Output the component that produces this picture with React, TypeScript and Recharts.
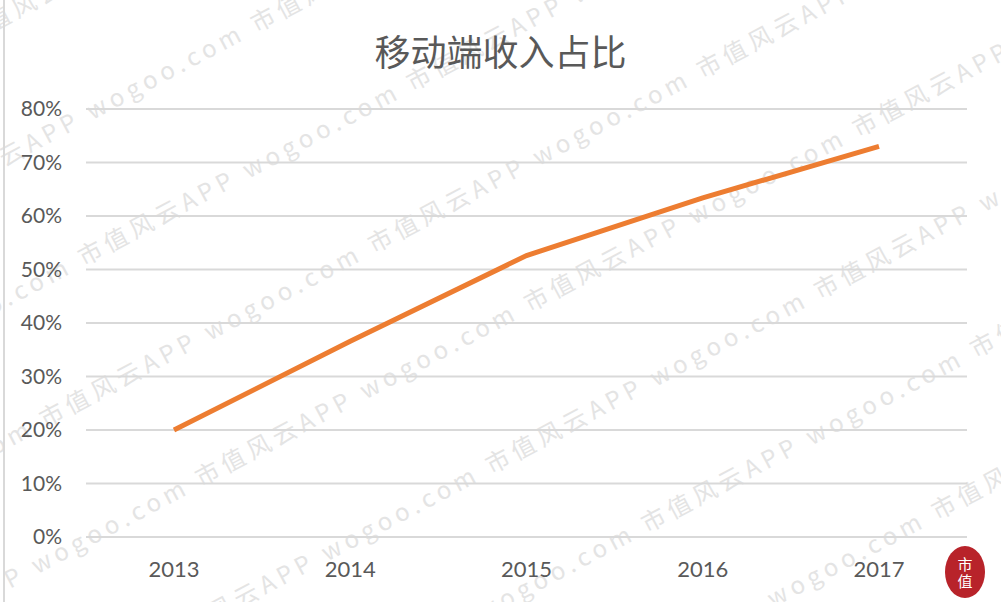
import React from "react";
import { LineChart, Line, XAxis, YAxis, CartesianGrid } from "recharts";

const years = ["2013", "2014", "2015", "2016", "2017"];
const mobileShare = [20, 36.6, 52.6, 63.4, 73];
const yTicks = [0, 10, 20, 30, 40, 50, 60, 70, 80];

const data = years.map((year, i) => ({ year, share: mobileShare[i] }));

const watermarkRows = Array.from({ length: 11 }, (_, i) => i);

function Watermark() {
  return (
    <svg
      width={1001}
      height={602}
      style={{ position: "absolute", left: 0, top: 0, pointerEvents: "none" }}
    >
      <g
        transform="rotate(-28 500 300)"
        fill="#e4e4e4"
        fontSize={24}
        fontFamily="'Noto Sans CJK SC', sans-serif"
      >
        {watermarkRows.map((r) => (
          <text key={r} x={-520 + (r % 2) * 110} y={-300 + r * 125} letterSpacing={5}>
            {Array.from({ length: 8 }, () => "wogoo.com        市值风云APP        ").join("")}
          </text>
        ))}
      </g>
    </svg>
  );
}

export default function App() {
  return (
    <div
      style={{
        position: "absolute",
        left: 0,
        top: 0,
        width: 1001,
        height: 602,
        background: "#fff",
        overflow: "hidden",
        fontFamily: "Lato, 'Noto Sans CJK SC', sans-serif",
      }}
    >
      <Watermark />
      <div
        style={{
          position: "absolute",
          left: 0,
          top: 26,
          width: 1001,
          textAlign: "center",
          fontSize: 36,
          color: "#595959",
          fontFamily: "'Noto Sans CJK SC', sans-serif",
          lineHeight: "48px",
        }}
      >
        移动端收入占比
      </div>
      <div style={{ position: "absolute", left: 0, top: 0 }}>
        <LineChart
          width={1001}
          height={602}
          data={data}
          margin={{ top: 109, right: 34, left: 0, bottom: 5 }}
        >
          <CartesianGrid vertical={false} stroke="#d9d9d9" strokeWidth={2} />
          <XAxis
            dataKey="year"
            height={60}
            padding={{ left: 88, right: 88 }}
            axisLine={false}
            tickLine={false}
            tickSize={0}
            tickMargin={24}
            tick={{ fill: "#595959", fontSize: 22, fontFamily: "Lato" }}
          />
          <YAxis
            width={86}
            domain={[0, 80]}
            ticks={yTicks}
            interval={0}
            axisLine={false}
            tickLine={false}
            tickSize={0}
            tickMargin={24}
            tickFormatter={(v: number) => `${v}%`}
            tick={{ fill: "#595959", fontSize: 21, fontFamily: "Lato" }}
          />
          <Line
            type="linear"
            dataKey="share"
            stroke="#ED7D31"
            strokeWidth={5}
            dot={false}
            isAnimationActive={false}
          />
        </LineChart>
      </div>
      <div
        style={{
          position: "absolute",
          left: 945,
          top: 546,
          width: 40,
          height: 52,
          borderRadius: "50%",
          background: "#b8232a",
          color: "#fff",
          fontSize: 15,
          lineHeight: "17px",
          textAlign: "center",
          paddingTop: 9,
          boxSizing: "border-box",
          fontFamily: "'Noto Sans CJK SC', sans-serif",
        }}
      >
        市<br />值
      </div>
      <div style={{ position: "absolute", left: 3, top: 0, width: 2, height: 602, background: "#d9d9d9" }} />
    </div>
  );
}
